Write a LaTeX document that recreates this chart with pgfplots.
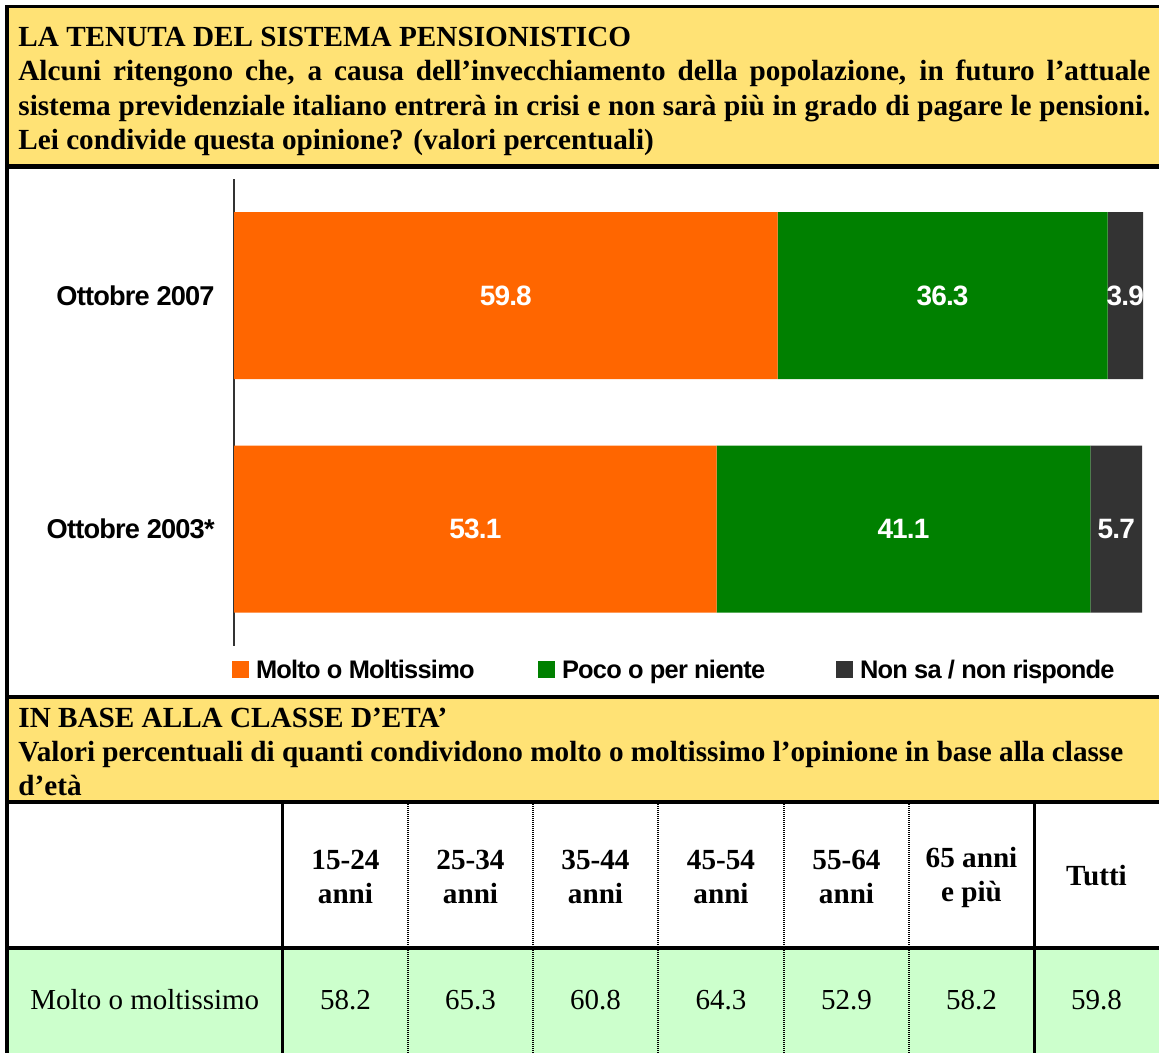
\documentclass[border=0pt]{standalone}
\usepackage{pgfplots}
\usepackage{pgfplotstable}
\pgfplotsset{compat=1.18}
\usepackage{fontspec}
\setmainfont{Liberation Serif}
\newfontfamily\chartfont[LetterSpace=-3]{Liberation Sans}

\definecolor{hdryellow}{RGB}{255,226,117}
\definecolor{barorange}{RGB}{255,102,0}
\definecolor{bargreen}{RGB}{0,128,0}
\definecolor{bargray}{RGB}{51,51,51}
\definecolor{rowgreen}{RGB}{204,255,204}

\newcommand{\hdr}{\bfseries\fontsize{14.6}{17}\selectfont}
\newcommand{\txt}{\fontsize{14.5}{17}\selectfont}
\newcommand{\cf}{\chartfont\bfseries\fontsize{14}{16}\selectfont}
\newcommand{\cft}{\chartfont\bfseries\fontsize{13.6}{15}\selectfont}
\newcommand{\cfl}{\chartfont\bfseries\fontsize{12.7}{15}\selectfont}

% percentages; y = 0 is Ottobre 2003, y = 1 is Ottobre 2007
\pgfplotstableread{
y molto poco nonsa
0 53.1  41.1 5.7
1 59.8  36.3 3.9
}\pensioni

\begin{document}
\begin{tikzpicture}
% coordinates in reference pixels: 1px = 0.5pt, y grows downwards
\begin{scope}[x=0.5pt,y=-0.5pt]
  \path[use as bounding box] (0,0) rectangle (1159,1053);
  \fill[white] (0,0) rectangle (1159,1053);
  \fill[hdryellow] (8,8) rectangle (1159,165);
  \fill[hdryellow] (8,698) rectangle (1159,801);
  \fill[rowgreen] (8,948) rectangle (1159,1053);
\end{scope}

% stacked bar labels already sit in the middle of their segment
\begin{axis}[
  at={(117pt,-322.875pt)}, anchor=south west,
  scale only axis, width=454.5pt, height=233.5pt,
  xbar stacked, bar width=83.5pt,
  xmin=0, xmax=100, ymin=-0.5, ymax=1.5,
  enlargelimits=false, clip=false,
  axis x line=none, axis y line*=left,
  y axis line style={line width=0.6pt, color=black!80},
  xtick=\empty, ytick={0,1},
  yticklabels={Ottobre 2003*, Ottobre 2007},
  major tick length=0pt,
  yticklabel style={font=\cft, anchor=east, inner sep=0pt, xshift=-9.5pt},
  nodes near coords={\pgfmathprintnumber[fixed,precision=1,assume math mode=true]{\val}},
  every node near coord/.append style={font=\cf, text=white, anchor=center},
  legend columns=3,
  legend style={at={(-0.0022,-0.054)}, anchor=west, draw=none, fill=none,
    inner sep=0pt, outer sep=0pt, font=\cfl, nodes={inner sep=0pt},
    /tikz/every odd column/.append style={column sep=3.5pt}},
  legend cell align=left,
  legend image code/.code={\fill[#1] (0pt,-3.5pt) rectangle (8.5pt,5pt);},
]
\addplot[fill=barorange, draw=none,
  visualization depends on={\thisrow{molto} \as \val}]
  table[x=molto, y=y] {\pensioni};
\addplot[fill=bargreen, draw=none,
  visualization depends on={\thisrow{poco} \as \val}]
  table[x=poco, y=y] {\pensioni};
\addplot[fill=bargray, draw=none,
  visualization depends on={\thisrow{nonsa} \as \val}]
  table[x=nonsa, y=y] {\pensioni};
\legend{\makebox[141pt][l]{Molto o Moltissimo}, \makebox[137pt][l]{Poco o per niente}, Non sa / non risponde}
\end{axis}

\begin{scope}[x=0.5pt,y=-0.5pt]
  % frame and rules
  \fill[black] (5,5) rectangle (1159,8.5);
  \fill[black] (5,5) rectangle (8.5,1053);
  \fill[black] (8,164) rectangle (1159,169);
  \fill[black] (8,695) rectangle (1159,699);
  \fill[black] (8,800) rectangle (1159,804);
  \fill[black] (8,946) rectangle (1159,949.5);
  \fill[black] (280.5,804) rectangle (283.5,1053);
  \fill[black] (1032.5,804) rectangle (1035.5,1053);
  \foreach \xx in {408,533,658,784,909}
    \draw[line width=1pt, dash pattern=on 0.5pt off 0.5pt] (\xx,804) -- (\xx,1053);

  % first header
  \begin{scope}[every node/.style={anchor=base west, inner sep=0pt, font=\hdr}]
    \node at (18,47) {LA TENUTA DEL SISTEMA PENSIONISTICO};
    \node at (18,81) {\makebox[566pt][s]{Alcuni ritengono che, a causa dell’invecchiamento della popolazione, in futuro l’attuale}};
    \node at (18,115) {\makebox[566pt][s]{sistema previdenziale italiano entrerà in crisi e non sarà più in grado di pagare le pensioni.}};
    \node at (18,149) {Lei condivide questa opinione? (valori percentuali)};
    % second header
    \node at (18,727) {IN BASE ALLA CLASSE D’ETA’};
    \node at (18,761) {Valori percentuali di quanti condividono molto o moltissimo l’opinione in base alla classe};
    \node at (18,795) {d’età};
  \end{scope}

  % table head
  \begin{scope}[every node/.style={align=center, inner sep=0pt, font=\hdr}]
    \node at (345.5,877) {15-24\\anni};
    \node at (470.5,877) {25-34\\anni};
    \node at (595.5,877) {35-44\\anni};
    \node at (721,877) {45-54\\anni};
    \node at (846.5,877) {55-64\\anni};
    \node at (971.5,877) {65 anni\\e più};
    \node at (1096.5,876) {Tutti};
  \end{scope}

  % table row
  \begin{scope}[every node/.style={anchor=base, inner sep=0pt, font=\txt}]
    \node[anchor=base west] at (30,1009) {Molto o moltissimo};
    \node at (345.5,1009) {58.2};
    \node at (470.5,1009) {65.3};
    \node at (595.5,1009) {60.8};
    \node at (721,1009) {64.3};
    \node at (846.5,1009) {52.9};
    \node at (971.5,1009) {58.2};
    \node at (1096.5,1009) {59.8};
  \end{scope}
\end{scope}
\end{tikzpicture}
\end{document}
